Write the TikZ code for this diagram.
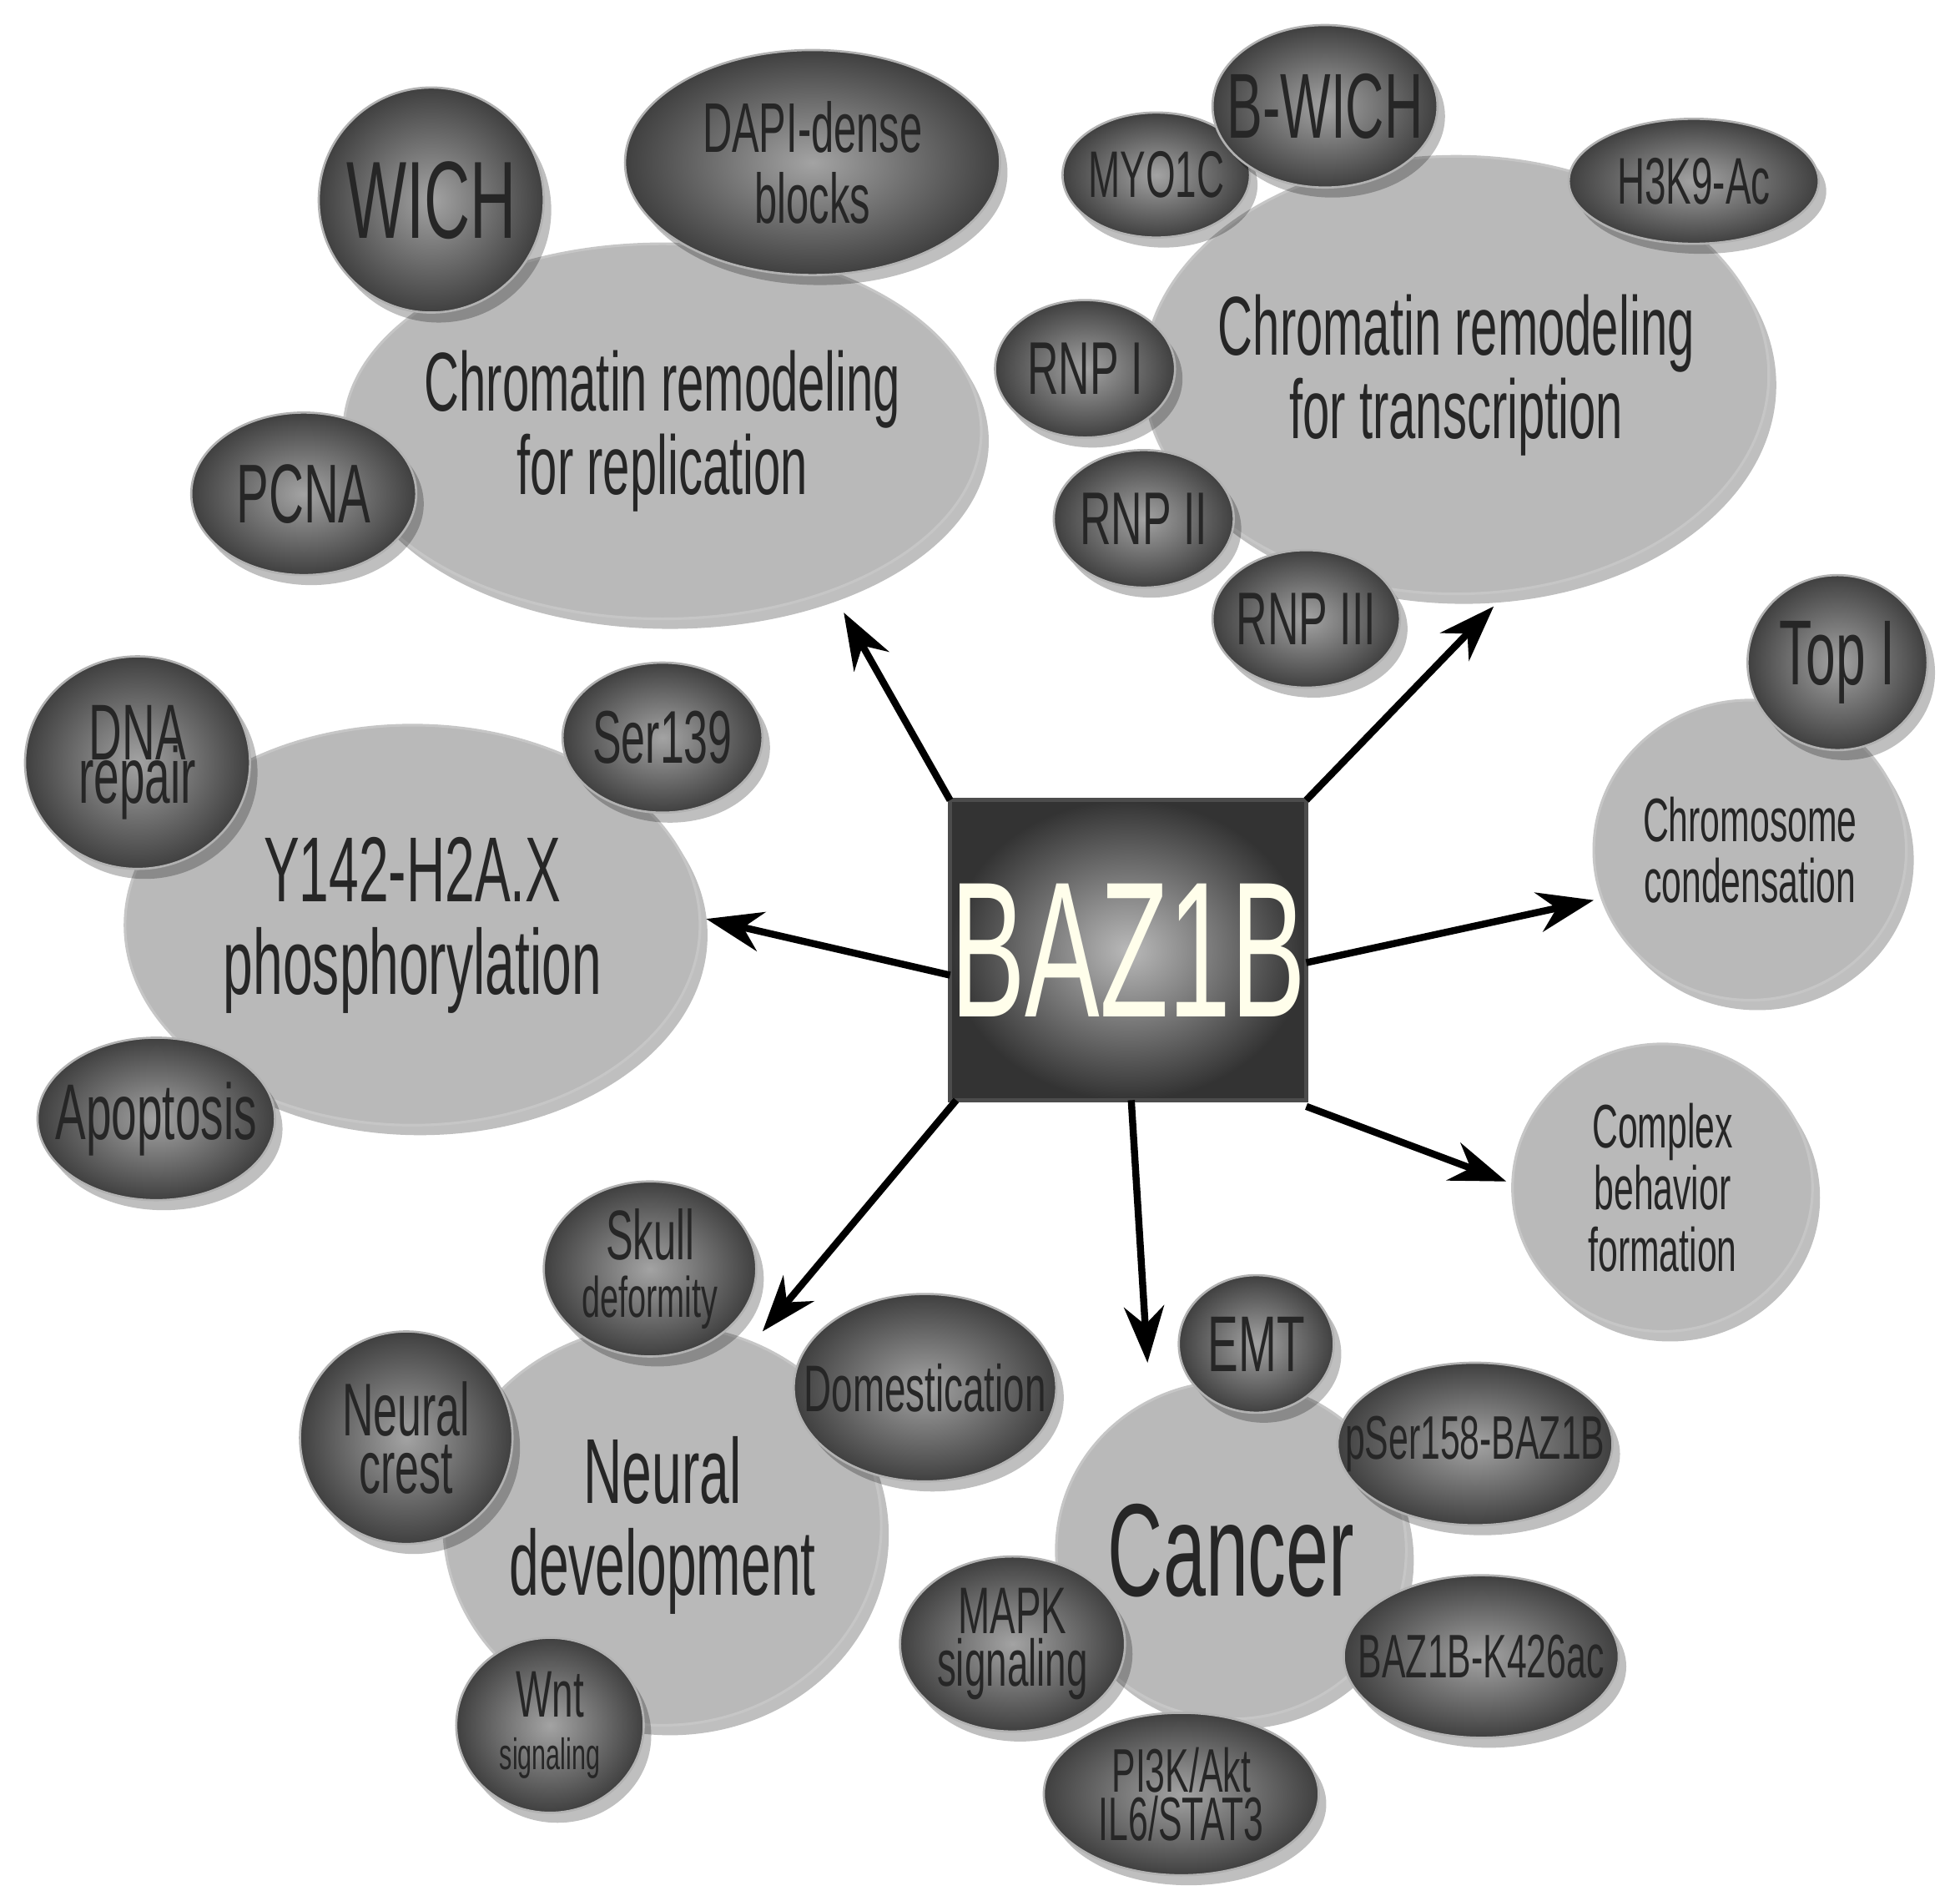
\documentclass[tikz,border=0pt]{standalone}
\usepackage{fontspec}
\setmainfont[FakeStretch=0.58]{Liberation Sans}
\usetikzlibrary{shapes.geometric,shadows,arrows.meta}
\tikzset{
 bigfill/.style={fill=gray!55,draw=gray!45,line width=0.6pt},
 bigshadow/.style={fill=black,opacity=0.25},
 smallfill/.style={inner color=gray!72,outer color=black!75,draw=gray!60,line width=0.5pt},
 lbl/.style={align=center,text=black!85,inner sep=0pt},
 arr/.style={-{Stealth[length=0.45cm,width=0.32cm]},line width=1.6pt},
 fs/.style={font=\fontsize{#1}{#1*1.12}\selectfont}
}
% \blob{name}{x}{y}{rx}{ry}{fillstyle}{fontsize}{text}
\newcommand{\blob}[8]{%
  \fill[bigshadow] (#2+0.06,#3-0.08) ellipse [x radius=#4,y radius=#5];
  \path[#6] (#2,#3) ellipse [x radius=#4,y radius=#5];
  \node[lbl,fs=#7] (#1) at (#2,#3) {#8};}
\begin{document}
\begin{tikzpicture}
\useasboundingbox (0,0) rectangle (15.68,-15.2);
% group replication
\blob{rep}{5.30}{-3.45}{2.55}{1.5}{bigfill}{19pt}{Chromatin remodeling\\for replication}
\blob{dapi}{6.50}{-1.30}{1.5}{0.9}{smallfill}{16pt}{DAPI-dense\\blocks}
\blob{wich}{3.45}{-1.60}{0.9}{0.9}{smallfill}{25pt}{WICH}
\blob{pcna}{2.43}{-3.95}{0.9}{0.65}{smallfill}{19pt}{PCNA}
% transcription
\blob{tra}{11.65}{-3.00}{2.5}{1.75}{bigfill}{19pt}{Chromatin remodeling\\for transcription}
\blob{myo}{9.25}{-1.40}{0.75}{0.5}{smallfill}{15pt}{MYO1C}
\blob{bwich}{10.60}{-0.85}{0.9}{0.65}{smallfill}{21pt}{B-WICH}
\blob{h3k}{13.55}{-1.45}{1.0}{0.5}{smallfill}{15pt}{H3K9-Ac}
\blob{rnp1}{8.68}{-2.95}{0.72}{0.55}{smallfill}{17pt}{RNP I}
\blob{rnp2}{9.15}{-4.15}{0.72}{0.55}{smallfill}{17pt}{RNP II}
\blob{rnp3}{10.45}{-4.95}{0.75}{0.55}{smallfill}{17pt}{RNP III}
% chromosome
\blob{chr}{14.00}{-6.80}{1.25}{1.2}{bigfill}{14pt}{Chromosome\\condensation}
\blob{top}{14.70}{-5.30}{0.72}{0.7}{smallfill}{21pt}{Top I}
% Y142
\blob{y142}{3.30}{-7.40}{2.3}{1.6}{bigfill}{21pt}{Y142-H2A.X\\phosphorylation}
\blob{dna}{1.10}{-6.10}{0.9}{0.85}{smallfill}{18pt}{DNA\\[-8pt]repair}
\blob{ser}{5.30}{-5.90}{0.8}{0.6}{smallfill}{17pt}{Ser139}
\blob{apo}{1.25}{-8.95}{0.95}{0.65}{smallfill}{18pt}{Apoptosis}
% complex
\blob{cbf}{13.30}{-9.50}{1.2}{1.15}{bigfill}{14pt}{Complex\\behavior\\formation}
% neural
\blob{neu}{5.30}{-12.20}{1.75}{1.6}{bigfill}{21pt}{Neural\\development}
\blob{sku}{5.20}{-10.15}{0.85}{0.7}{smallfill}{16pt}{Skull\\[-3pt]{\fontsize{13pt}{14pt}\selectfont deformity}}
\blob{nc}{3.25}{-11.50}{0.85}{0.85}{smallfill}{17pt}{Neural\\[-4pt]crest}
\blob{dom}{7.40}{-11.10}{1.05}{0.75}{smallfill}{15pt}{Domestication}
\blob{wnt}{4.40}{-13.80}{0.75}{0.7}{smallfill}{15pt}{Wnt\\[-3pt]{\fontsize{10pt}{11pt}\selectfont signaling}}
% cancer
\blob{can}{9.85}{-12.40}{1.4}{1.35}{bigfill}{30pt}{Cancer}
\blob{emt}{10.05}{-10.75}{0.62}{0.55}{smallfill}{18pt}{EMT}
\blob{pser}{11.80}{-11.55}{1.1}{0.65}{smallfill}{14pt}{pSer158-BAZ1B}
\blob{k426}{11.85}{-13.25}{1.1}{0.65}{smallfill}{14pt}{BAZ1B-K426ac}
\blob{mapk}{8.10}{-13.15}{0.9}{0.7}{smallfill}{15pt}{MAPK\\[-3pt]signaling}
\blob{pi3k}{9.45}{-14.35}{1.1}{0.65}{smallfill}{14pt}{PI3K/Akt\\[-3pt]IL6/STAT3}
% center
\path[draw=black!70,line width=1pt,inner color=gray!55,outer color=black!80] (7.60,-6.40) rectangle (10.45,-8.80);
\node[fs=44pt,text=yellow!8,inner sep=0pt] (baz) at (9.025,-7.60) {BAZ1B};
\coordinate (bnw) at (7.60,-6.40);
\coordinate (bne) at (10.45,-6.40);
\coordinate (bsw) at (7.65,-8.80);
\coordinate (bse) at (10.45,-8.85);
% arrows
\draw[arr] (bnw) -- (6.75,-4.90);
\draw[arr] (bne) -- (11.95,-4.85);
\draw[arr] (7.60,-7.80) -- (5.65,-7.35);
\draw[arr] (10.45,-7.70) -- (12.75,-7.20);
\draw[arr] (bse) -- (12.05,-9.45);
\draw[arr] (9.05,-8.80) -- (9.18,-10.90);
\draw[arr] (bsw) -- (6.10,-10.65);
\end{tikzpicture}
\end{document}
